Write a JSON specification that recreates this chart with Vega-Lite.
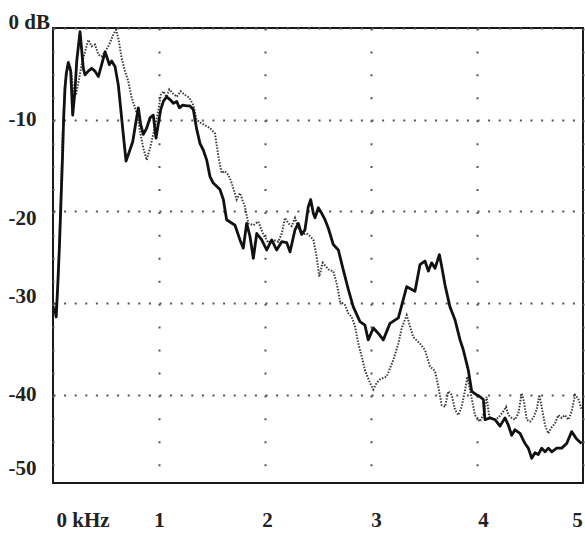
{
  "$schema": "https://vega.github.io/schema/vega-lite/v6.json",
  "width": 530,
  "height": 455,
  "autosize": {"type": "none"},
  "padding": {"left": 53, "top": 28, "right": 2, "bottom": 50},
  "background": "white",
  "config": {
    "view": {"stroke": "#1a1a1a", "strokeWidth": 2},
    "axis": {"labelFont": "Liberation Serif", "labelFontSize": 21, "labelFontWeight": "bold", "labelColor": "#222", "domain": false, "ticks": false, "tickSize": 0, "title": null, "gridColor": "#555", "gridWidth": 2, "labelOverlap": false, "labelBound": false}
  },
  "datasets": {
    "solid": [
      {"f":0.015,"db":-30.5},{"f":0.03,"db":-31.5},{"f":0.045,"db":-28},{"f":0.06,"db":-24},{"f":0.075,"db":-19},{"f":0.09,"db":-14},{"f":0.1,"db":-10},{"f":0.113,"db":-6.6},{"f":0.125,"db":-5},{"f":0.144,"db":-3.8},{"f":0.167,"db":-4.7},{"f":0.186,"db":-9.5},{"f":0.207,"db":-6.9},{"f":0.224,"db":-3.6},{"f":0.255,"db":-0.4},{"f":0.286,"db":-4.4},{"f":0.302,"db":-5.1},{"f":0.333,"db":-4.7},{"f":0.365,"db":-4.4},{"f":0.396,"db":-4.7},{"f":0.428,"db":-5.3},{"f":0.459,"db":-4.0},{"f":0.491,"db":-2.6},{"f":0.512,"db":-3.3},{"f":0.531,"db":-4.0},{"f":0.553,"db":-3.6},{"f":0.585,"db":-4.2},{"f":0.616,"db":-6.2},{"f":0.638,"db":-8.7},{"f":0.663,"db":-11.6},{"f":0.689,"db":-14.5},{"f":0.72,"db":-13.5},{"f":0.752,"db":-12.4},{"f":0.783,"db":-10.2},{"f":0.805,"db":-8.7},{"f":0.827,"db":-10.5},{"f":0.852,"db":-11.6},{"f":0.884,"db":-10.9},{"f":0.915,"db":-9.8},{"f":0.946,"db":-9.5},{"f":0.972,"db":-12.0},{"f":0.993,"db":-10.5},{"f":1.016,"db":-8.9},{"f":1.041,"db":-8.0},{"f":1.072,"db":-7.5},{"f":1.104,"db":-7.8},{"f":1.135,"db":-8.2},{"f":1.167,"db":-8.0},{"f":1.192,"db":-8.7},{"f":1.224,"db":-8.4},{"f":1.261,"db":-8.5},{"f":1.292,"db":-8.5},{"f":1.324,"db":-8.9},{"f":1.355,"db":-11.0},{"f":1.387,"db":-12.6},{"f":1.418,"db":-13.3},{"f":1.45,"db":-14.4},{"f":1.481,"db":-16.2},{"f":1.512,"db":-16.9},{"f":1.575,"db":-17.6},{"f":1.607,"db":-18.7},{"f":1.638,"db":-20.9},{"f":1.717,"db":-21.5},{"f":1.764,"db":-23.1},{"f":1.795,"db":-24.0},{"f":1.827,"db":-21.3},{"f":1.858,"db":-22.7},{"f":1.89,"db":-25.1},{"f":1.922,"db":-22.4},{"f":1.969,"db":-23.1},{"f":2.016,"db":-24.2},{"f":2.063,"db":-23.1},{"f":2.11,"db":-24.2},{"f":2.158,"db":-23.3},{"f":2.205,"db":-23.4},{"f":2.236,"db":-24.4},{"f":2.283,"db":-22.0},{"f":2.314,"db":-21.3},{"f":2.346,"db":-22.5},{"f":2.377,"db":-22.0},{"f":2.408,"db":-19.5},{"f":2.431,"db":-18.7},{"f":2.456,"db":-20.2},{"f":2.472,"db":-20.7},{"f":2.503,"db":-19.6},{"f":2.535,"db":-20.2},{"f":2.566,"db":-20.9},{"f":2.597,"db":-21.8},{"f":2.644,"db":-23.6},{"f":2.692,"db":-24.2},{"f":2.739,"db":-26.4},{"f":2.786,"db":-28.5},{"f":2.833,"db":-30.4},{"f":2.896,"db":-32.0},{"f":2.943,"db":-32.4},{"f":2.974,"db":-34.0},{"f":3.022,"db":-32.7},{"f":3.069,"db":-33.3},{"f":3.116,"db":-34.0},{"f":3.179,"db":-32.2},{"f":3.258,"db":-31.6},{"f":3.337,"db":-28.2},{"f":3.415,"db":-28.7},{"f":3.462,"db":-25.8},{"f":3.509,"db":-25.4},{"f":3.541,"db":-26.5},{"f":3.572,"db":-25.6},{"f":3.604,"db":-26.2},{"f":3.645,"db":-24.7},{"f":3.667,"db":-26.0},{"f":3.698,"db":-28.0},{"f":3.745,"db":-30.4},{"f":3.792,"db":-31.8},{"f":3.84,"db":-34.0},{"f":3.871,"db":-35.1},{"f":3.918,"db":-37.3},{"f":3.95,"db":-39.6},{"f":3.997,"db":-40.0},{"f":4.028,"db":-40.2},{"f":4.06,"db":-40.5},{"f":4.075,"db":-42.7},{"f":4.123,"db":-42.5},{"f":4.17,"db":-42.7},{"f":4.217,"db":-43.4},{"f":4.264,"db":-42.5},{"f":4.296,"db":-43.3},{"f":4.327,"db":-44.4},{"f":4.358,"db":-43.8},{"f":4.406,"db":-44.2},{"f":4.453,"db":-45.3},{"f":4.484,"db":-45.8},{"f":4.516,"db":-46.9},{"f":4.547,"db":-46.3},{"f":4.578,"db":-46.5},{"f":4.61,"db":-45.8},{"f":4.642,"db":-46.2},{"f":4.673,"db":-45.8},{"f":4.705,"db":-46.2},{"f":4.752,"db":-45.8},{"f":4.799,"db":-45.8},{"f":4.846,"db":-45.3},{"f":4.893,"db":-44.0},{"f":4.94,"db":-44.8},{"f":4.987,"db":-45.3}
    ],
    "dotted": [
      {"f":0.015,"db":-30.0},{"f":0.03,"db":-31.5},{"f":0.05,"db":-27},{"f":0.07,"db":-20},{"f":0.09,"db":-12},{"f":0.113,"db":-6.2},{"f":0.144,"db":-3.6},{"f":0.167,"db":-4.4},{"f":0.192,"db":-6.9},{"f":0.217,"db":-7.3},{"f":0.239,"db":-6.0},{"f":0.27,"db":-4.0},{"f":0.302,"db":-2.6},{"f":0.333,"db":-1.3},{"f":0.365,"db":-2.0},{"f":0.396,"db":-1.8},{"f":0.428,"db":-2.9},{"f":0.459,"db":-3.1},{"f":0.491,"db":-2.6},{"f":0.531,"db":-1.8},{"f":0.569,"db":-0.7},{"f":0.594,"db":-0.2},{"f":0.616,"db":-1.1},{"f":0.648,"db":-3.3},{"f":0.679,"db":-4.7},{"f":0.71,"db":-5.8},{"f":0.742,"db":-7.6},{"f":0.774,"db":-8.7},{"f":0.796,"db":-9.5},{"f":0.821,"db":-11.3},{"f":0.852,"db":-13.1},{"f":0.884,"db":-14.4},{"f":0.915,"db":-13.1},{"f":0.946,"db":-11.6},{"f":0.972,"db":-10.2},{"f":0.993,"db":-9.1},{"f":1.016,"db":-7.3},{"f":1.041,"db":-6.9},{"f":1.072,"db":-7.5},{"f":1.097,"db":-6.7},{"f":1.129,"db":-7.1},{"f":1.167,"db":-7.5},{"f":1.205,"db":-6.9},{"f":1.245,"db":-7.3},{"f":1.286,"db":-7.6},{"f":1.324,"db":-8.4},{"f":1.355,"db":-10.0},{"f":1.387,"db":-10.3},{"f":1.418,"db":-10.5},{"f":1.481,"db":-10.9},{"f":1.528,"db":-11.5},{"f":1.56,"db":-14.0},{"f":1.591,"db":-15.8},{"f":1.62,"db":-15.6},{"f":1.654,"db":-16.0},{"f":1.686,"db":-16.9},{"f":1.733,"db":-18.7},{"f":1.764,"db":-18.0},{"f":1.811,"db":-19.5},{"f":1.843,"db":-21.3},{"f":1.89,"db":-21.5},{"f":1.937,"db":-21.1},{"f":1.984,"db":-22.5},{"f":2.031,"db":-23.4},{"f":2.079,"db":-23.1},{"f":2.126,"db":-23.3},{"f":2.158,"db":-22.4},{"f":2.189,"db":-20.7},{"f":2.22,"db":-21.3},{"f":2.252,"db":-21.6},{"f":2.283,"db":-20.7},{"f":2.314,"db":-21.8},{"f":2.346,"db":-22.5},{"f":2.393,"db":-22.4},{"f":2.425,"db":-22.7},{"f":2.456,"db":-23.1},{"f":2.487,"db":-24.9},{"f":2.512,"db":-27.1},{"f":2.544,"db":-25.6},{"f":2.575,"db":-26.0},{"f":2.607,"db":-26.4},{"f":2.644,"db":-26.5},{"f":2.676,"db":-27.8},{"f":2.708,"db":-29.8},{"f":2.755,"db":-30.2},{"f":2.786,"db":-31.1},{"f":2.818,"db":-31.5},{"f":2.849,"db":-32.5},{"f":2.88,"db":-34.4},{"f":2.912,"db":-35.8},{"f":2.943,"db":-37.3},{"f":2.991,"db":-38.7},{"f":3.022,"db":-39.4},{"f":3.053,"db":-38.7},{"f":3.085,"db":-38.3},{"f":3.148,"db":-38.0},{"f":3.21,"db":-36.2},{"f":3.258,"db":-34.4},{"f":3.29,"db":-32.7},{"f":3.337,"db":-31.3},{"f":3.368,"db":-32.5},{"f":3.399,"db":-33.7},{"f":3.462,"db":-34.4},{"f":3.509,"db":-35.1},{"f":3.557,"db":-36.9},{"f":3.604,"db":-37.4},{"f":3.635,"db":-39.1},{"f":3.667,"db":-41.1},{"f":3.698,"db":-41.3},{"f":3.73,"db":-39.6},{"f":3.762,"db":-40.0},{"f":3.792,"db":-41.6},{"f":3.824,"db":-42.2},{"f":3.855,"db":-41.3},{"f":3.887,"db":-39.5},{"f":3.909,"db":-38.0},{"f":3.94,"db":-39.8},{"f":3.981,"db":-42.2},{"f":4.028,"db":-42.9},{"f":4.066,"db":-42.0},{"f":4.091,"db":-40.2},{"f":4.116,"db":-42.4},{"f":4.154,"db":-42.7},{"f":4.201,"db":-42.5},{"f":4.248,"db":-41.8},{"f":4.274,"db":-41.3},{"f":4.296,"db":-42.2},{"f":4.327,"db":-42.5},{"f":4.358,"db":-42.7},{"f":4.39,"db":-42.0},{"f":4.422,"db":-39.8},{"f":4.443,"db":-40.7},{"f":4.469,"db":-42.7},{"f":4.5,"db":-42.9},{"f":4.531,"db":-42.5},{"f":4.563,"db":-41.6},{"f":4.588,"db":-40.0},{"f":4.61,"db":-41.3},{"f":4.642,"db":-43.3},{"f":4.673,"db":-44.2},{"f":4.705,"db":-43.5},{"f":4.736,"db":-43.1},{"f":4.767,"db":-42.2},{"f":4.799,"db":-42.5},{"f":4.83,"db":-42.2},{"f":4.862,"db":-42.7},{"f":4.893,"db":-41.8},{"f":4.925,"db":-40.0},{"f":4.956,"db":-40.4},{"f":4.987,"db":-41.6}
    ]
  },
  "encoding": {
    "x": {
      "field": "f", "type": "quantitative",
      "scale": {"domain": [0, 5], "nice": false, "zero": false},
      "axis": {
        "values": [0, 1, 2, 3, 4, 5],
        "grid": true,
        "gridDash": [2, 20.93],
        "labelExpr": "datum.value == 0 ? '0 kHz' : '' + datum.value",
        "labelPadding": 37,
        "labelBaseline": "middle",
        "labelAlign": {"condition": {"test": "datum.value == 0", "value": "left"}, "value": "center"},
        "labelOffset": {"condition": [{"test": "datum.value == 0", "value": 3}, {"test": "datum.value == 2", "value": 2}, {"test": "datum.value == 3", "value": 5}, {"test": "datum.value == 4", "value": 6}, {"test": "datum.value == 5", "value": -6}], "value": 0}
      }
    },
    "y": {
      "field": "db", "type": "quantitative",
      "scale": {"domain": [-49.6, 0], "nice": false, "zero": false},
      "axis": {
        "values": [0, -10, -20, -30, -40, -48.3],
        "grid": true,
        "gridDash": [2, 8.6],
        "gridOpacity": {"condition": {"test": "datum.value < -45", "value": 0}, "value": 1},
        "labelExpr": "datum.value == 0 ? '0 dB' : datum.value < -45 ? '-50' : '' + datum.value",
        "labelAlign": "left",
        "labelBaseline": "middle",
        "labelPadding": 45,
        "labelOffset": {"condition": [{"test": "datum.value == 0", "value": -6}, {"test": "datum.value == -20", "value": 7}, {"test": "datum.value == -30", "value": -7}, {"test": "datum.value < -45", "value": -3}], "value": 0}
      }
    }
  },
  "layer": [
    {
      "data": {"name": "dotted"},
      "mark": {"type": "line", "color": "#3a3a3a", "strokeWidth": 2, "strokeDash": [1.5, 1.5], "clip": true},
      "encoding": {}
    },
    {
      "data": {"name": "solid"},
      "mark": {"type": "line", "color": "#111", "strokeWidth": 2.8, "strokeJoin": "round", "clip": true},
      "encoding": {}
    }
  ]
}
